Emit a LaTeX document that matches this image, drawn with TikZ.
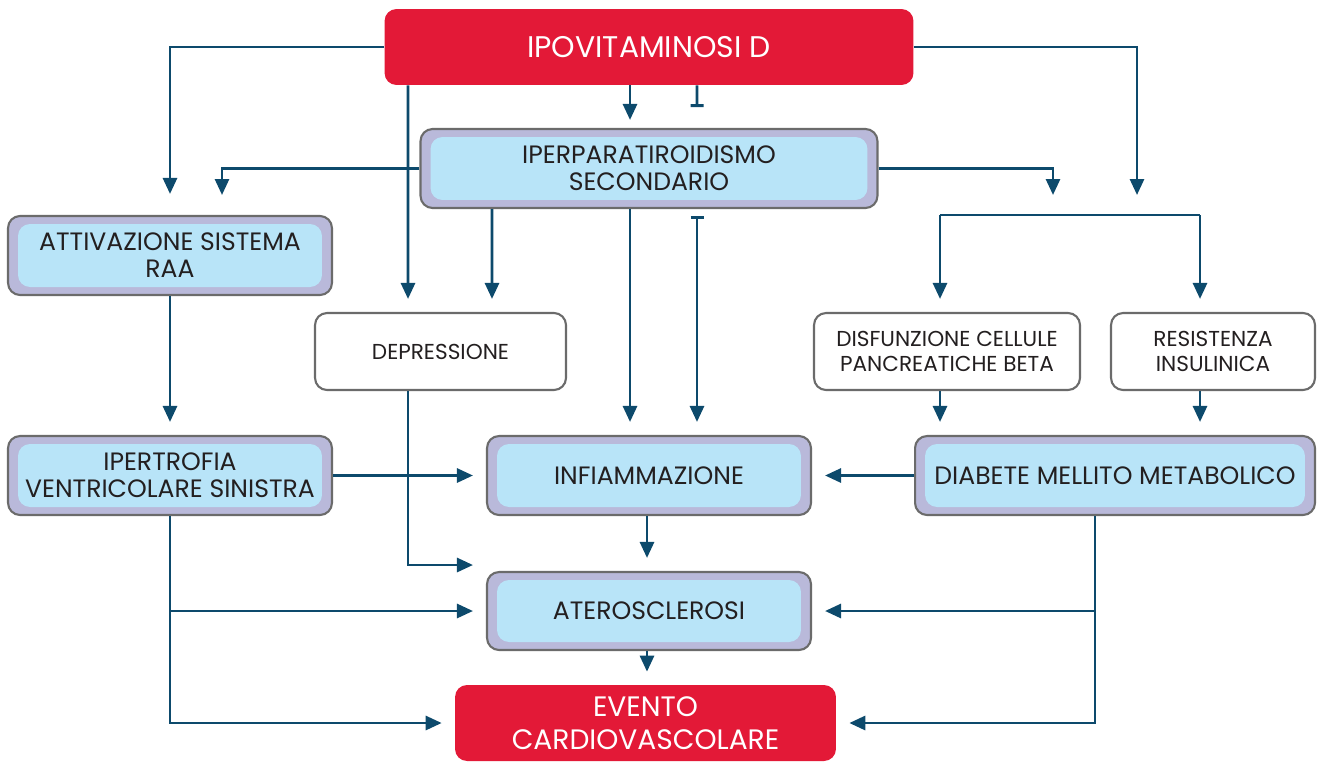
\documentclass[tikz,border=0pt]{standalone}
\usepackage{fontspec}
\setmainfont{Poppins}
\usetikzlibrary{arrows.meta}

\definecolor{vdred}{HTML}{E31937}
\definecolor{linkblue}{HTML}{0D4A6C}
\definecolor{boxgray}{HTML}{6B6B6B}
\definecolor{boxlav}{HTML}{B9B9DA}
\definecolor{boxblue}{HTML}{B8E4F8}
\definecolor{textdark}{HTML}{231F20}

\tikzset{
  redbox/.style={fill=vdred, rounded corners=0.24cm, text=white, align=center, inner sep=0pt,
    font=\fontsize{17}{19}\selectfont},
  bluebox/.style={draw=boxgray, line width=1.2pt, fill=boxlav, rounded corners=0.24cm,
    align=center, inner sep=0pt, text=textdark, font=\fontsize{14.3}{15.5}\selectfont,
    path picture={\fill[boxblue] ([shift={(0.2cm,-0.16cm)}]path picture bounding box.north west)
      rectangle ([shift={(-0.2cm,0.16cm)}]path picture bounding box.south east);}},
  whitebox/.style={draw=boxgray, line width=1.2pt, fill=white, rounded corners=0.24cm,
    align=center, inner sep=0pt, text=textdark, font=\fontsize{12.3}{14}\selectfont},
  link/.style={draw=linkblue, line width=1.6pt},
  arr/.style={link, -{Triangle[length=0.32cm,width=0.28cm]}},
  arrg/.style={arr, shorten >=0.26cm},
  stopbar/.style={link, -{Bar[width=0.26cm]}},
  bararr/.style={link, {Bar[width=0.26cm]}-{Triangle[length=0.32cm,width=0.28cm]}, shorten >=0.26cm}
}

\begin{document}
\begin{tikzpicture}[x=0.02cm, y=-0.02cm]
    \useasboundingbox (0,0) rectangle (1317,761);

    % nodes
    \node (ipovit) [redbox, minimum width=10.58cm, minimum height=1.52cm] at (649,47) {IPOVITAMINOSI D};
    \node (pth) [bluebox, minimum width=9.14cm, minimum height=1.58cm] at (649,168.5) {IPERPARATIROIDISMO\\SECONDARIO};
    \node (raa) [bluebox, minimum width=6.48cm, minimum height=1.58cm] at (170,255.5) {ATTIVAZIONE SISTEMA\\RAA};
    \node (depr) [whitebox, minimum width=5.02cm, minimum height=1.54cm] at (440.5,351.5) {DEPRESSIONE};
    \node (disf) [whitebox, minimum width=5.32cm, minimum height=1.54cm] at (947,351.5) {DISFUNZIONE CELLULE\\PANCREATICHE BETA};
    \node (resist) [whitebox, minimum width=4.08cm, minimum height=1.54cm] at (1213,351.5) {RESISTENZA\\INSULINICA};
    \node (ipertr) [bluebox, minimum width=6.48cm, minimum height=1.58cm] at (170,475.5) {IPERTROFIA\\VENTRICOLARE SINISTRA};
    \node (infiam) [bluebox, minimum width=6.48cm, minimum height=1.58cm] at (649,475.5) {INFIAMMAZIONE};
    \node (diabete) [bluebox, minimum width=8cm, minimum height=1.58cm] at (1115,475.5) {DIABETE MELLITO METABOLICO};
    \node (ateros) [bluebox, minimum width=6.48cm, minimum height=1.56cm] at (649,611) {ATEROSCLEROSI};
    \node (evento) [redbox, font=\fontsize{16}{18.5}\selectfont, minimum width=7.62cm, minimum height=1.52cm] at (645.5,723) {EVENTO\\CARDIOVASCOLARE};

    % free ends
    \coordinate (rtop) at (1137,195);
    \coordinate (ltop) at (222,195);
    \coordinate (rmtop) at (1053,195);
    \coordinate (bartip) at (697,107);
    \coordinate (brL) at (940,215);
    \coordinate (brR) at (1200,215);
    \coordinate (midcol) at (647,0);

    % edges from ipovitaminosi
    \draw[arrg, shorten >=0.42cm] (ipovit.west) -| (raa.north);
    \draw[arr] (ipovit.east) -| (rtop);
    \draw[arrg] ([xshift=-4.82cm]ipovit.south) -- ([xshift=-0.65cm]depr.north);
    \draw[arr, shorten >=0.16cm] ([xshift=-0.38cm]ipovit.south) -- ([xshift=-0.38cm]pth.north);
    \draw[stopbar] ([xshift=0.96cm]ipovit.south) -- (bartip);

    % edges from iperparatiroidismo
    \draw[arr] (pth.west) -| (ltop);
    \draw[arr] (pth.east) -| (rmtop);
    \draw[arrg] ([xshift=-3.14cm]pth.south) -- ([xshift=1.03cm]depr.north);
    \draw[arrg] ([xshift=-0.38cm]pth.south) -- ([xshift=-0.38cm]infiam.north);
    \draw[bararr] ([xshift=0.96cm, yshift=-0.14cm]pth.south) -- ([xshift=0.96cm]infiam.north);

    % bracket to the pancreas boxes
    \draw[link] (brL) -- (brR);
    \draw[arrg] (brL) -- (brL |- disf.north);
    \draw[arrg] (brR) -- (brR |- resist.north);
    \draw[arrg] (brL |- disf.south) -- (brL |- diabete.north);
    \draw[arrg] (brR |- resist.south) -- (brR |- diabete.north);

    % edges on the left
    \draw[arrg] (raa.south) -- (ipertr.north);
    \draw[arrg] (ipertr.east) -- (infiam.west);
    \draw[arrg] (ipertr.south) |- (ateros.west);
    \draw[arrg] (ipertr.south) |- (evento.west);
    \draw[arrg] ([xshift=-0.65cm]depr.south) |- ([yshift=0.92cm]ateros.west);

    % edges on the right
    \draw[arrg] (diabete.west) -- (infiam.east);
    \draw[arrg] ([xshift=-0.4cm]diabete.south) |- (ateros.east);
    \draw[arrg] ([xshift=-0.4cm]diabete.south) |- (evento.east);

    % middle column
    \draw[arrg] (infiam.south -| midcol) -- (ateros.north -| midcol);
    \draw[arrg] (ateros.south -| midcol) -- (evento.north -| midcol);
\end{tikzpicture}
\end{document}
